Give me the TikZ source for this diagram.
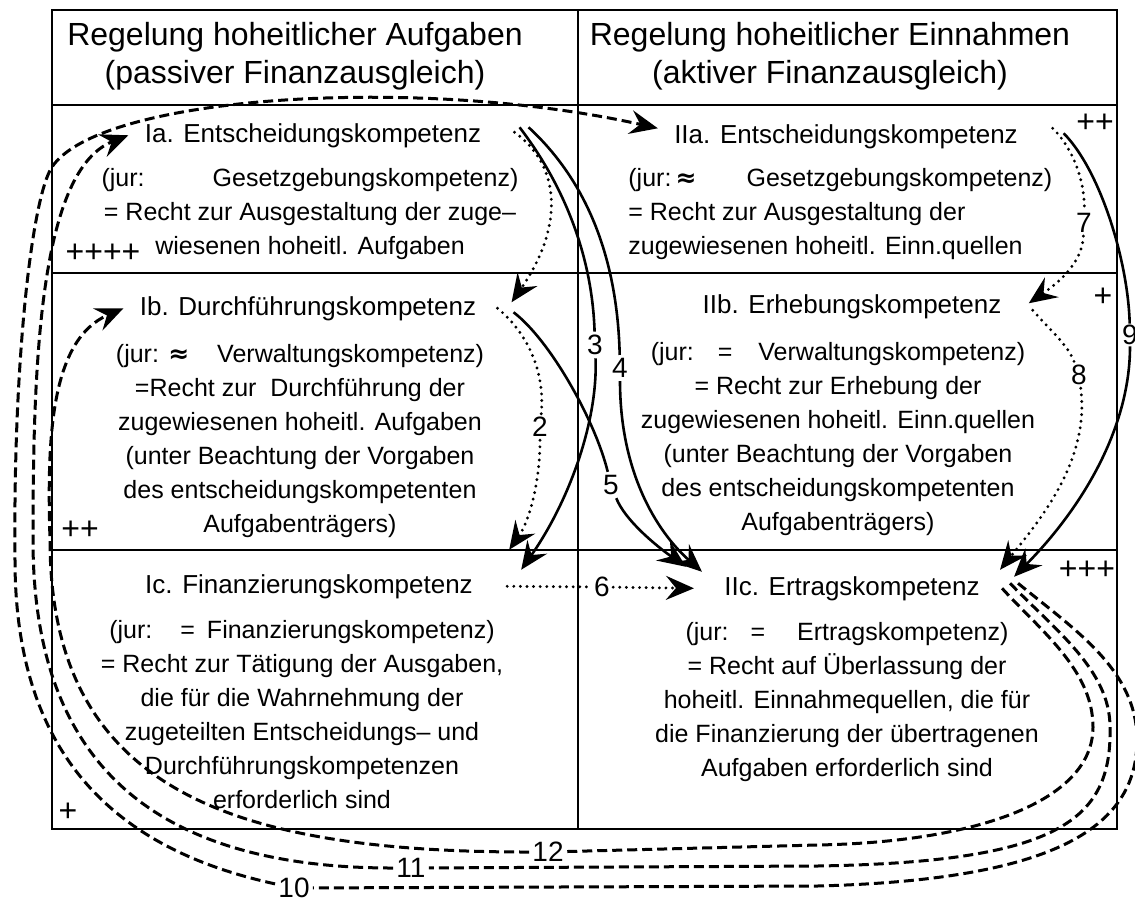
\documentclass[tikz,border=0pt]{standalone}
\usepackage{fontspec}
\setmainfont{Liberation Sans}
\newfontfamily\approxfont{DejaVu Sans}
\usepackage{tikz}
\usetikzlibrary{arrows.meta,positioning}
\newcommand{\apx}{{\approxfont\bfseries ≈}}
\tikzset{
  gridline/.style={line width=1.4pt, line cap=rect},
  header/.style={font=\fontsize{16}{19}\selectfont, align=center, anchor=north, inner sep=0pt},
  comptitle/.style={font=\fontsize{13}{16}\selectfont, anchor=base, inner xsep=8pt, inner ysep=2pt},
  bodytext/.style={font=\fontsize{12.5}{17}\selectfont, align=center, inner sep=0pt},
  signs/.style={font=\fontsize{16}{16}\selectfont, inner sep=0pt},
  numlabel/.style={font=\fontsize{14}{14}\selectfont, fill=white, inner sep=1.5pt},
  line/.style={-{Stealth[length=14pt,width=12pt,inset=5pt]}, line width=1.3pt},
  dashedline/.style={line, line width=1.5pt, dash pattern=on 5pt off 2.5pt},
  dottedline/.style={line, line width=1.6pt, line cap=round, dash pattern=on 0pt off 3.3pt}
}

\begin{document}
\begin{tikzpicture}[x=0.5pt, y=-0.5pt]
\useasboundingbox (0,0) rectangle (1135,902);

\draw[gridline] (52,10) rectangle (1117,829);
\draw[gridline] (578,10) -- (578,829);
\draw[gridline] (52,105) -- (1117,105);
\draw[gridline] (52,273) -- (1117,273);
\draw[gridline] (52,550) -- (1117,550);

\node[header] (hleft) at (295,22) {Regelung hoheitlicher Aufgaben\\(passiver Finanzausgleich)};
\node[header] (hright) at (830,22) {Regelung hoheitlicher Einnahmen\\(aktiver Finanzausgleich)};

\node[comptitle] (Ia) at (313,142) {Ia. Entscheidungskompetenz};
\node[comptitle] (Ib) at (308,315) {Ib. Durchführungskompetenz};
\node[comptitle] (Ic) at (309,593) {Ic. Finanzierungskompetenz};
\node[comptitle] (IIa) at (846,143) {IIa. Entscheidungskompetenz};
\node[comptitle] (IIb) at (852,313) {IIb. Erhebungskompetenz};
\node[comptitle] (IIc) at (852,595) {IIc. Ertragskompetenz};

\node[bodytext, below=13pt of Ia.base, xshift=-1.5pt] (Iatext)
  {(jur:\hspace{34pt}Gesetzgebungskompetenz)\\= Recht zur Ausgestaltung der zuge–\\wiesenen hoheitl. Aufgaben};
\node[bodytext, below=14.5pt of Ib.base, xshift=-4pt] (Ibtext)
  {(jur: \apx\hspace{14pt}Verwaltungskompetenz)\\=Recht zur\ \ Durchführung der\\zugewiesenen hoheitl. Aufgaben\\(unter Beachtung der Vorgaben\\des entscheidungskompetenten\\Aufgabenträgers)};
\node[bodytext, below=13.5pt of Ic.base, xshift=-3.5pt] (Ictext)
  {(jur:\hspace{14pt}=\hspace{6pt}Finanzierungskompetenz)\\= Recht zur Tätigung der Ausgaben,\\die für die Wahrnehmung der\\zugeteilten Entscheidungs– und\\Durchführungskompetenzen\\erforderlich sind};
\node[bodytext, align=left, below=12.5pt of IIa.base, anchor=north west, xshift=-109pt] (IIatext)
  {(jur:\,\apx\hspace{25pt}Gesetzgebungskompetenz)\\= Recht zur Ausgestaltung der\\zugewiesenen hoheitl. Einn.quellen};
\node[bodytext, below=14.5pt of IIb.base, xshift=-7pt] (IIbtext)
  {(jur:\hspace{12pt}=\hspace{13pt}Verwaltungskompetenz)\\= Recht zur Erhebung der\\zugewiesenen hoheitl. Einn.quellen\\(unter Beachtung der Vorgaben\\des entscheidungskompetenten\\Aufgabenträgers)};
\node[bodytext, below=13.5pt of IIc.base, xshift=-2.5pt] (IIctext)
  {(jur:\hspace{11pt}=\hspace{16pt}Ertragskompetenz)\\= Recht auf Überlassung der\\hoheitl. Einnahmequellen, die für\\die Finanzierung der übertragenen\\Aufgaben erforderlich sind};

\node[signs] (sIa) at (103,253) {++++};
\node[signs] (sIb) at (80,530) {++};
\node[signs] (sIc) at (68,812) {+};
\node[signs] (sIIa) at (1095,123) {++};
\node[signs] (sIIb) at (1103,297) {+};
\node[signs] (sIIc) at (1087,570) {+++};

\node[numlabel] (l2) at (540,427) {2};
\node[numlabel] (l3) at (595,345) {3};
\node[numlabel] (l4) at (620,368) {4};
\node[numlabel] (l5) at (611,485) {5};
\node[numlabel] (l6) at (602,587) {6};
\node[numlabel] (l7) at (1084,223) {7};
\node[numlabel] (l8) at (1079,375) {8};
\node[numlabel, inner sep=0.5pt] (l9) at (1130,335) {9};
\node[numlabel] (l10) at (294,888) {10};
\node[numlabel] (l11) at (411,868) {11};
\node[numlabel] (l12) at (548,852) {12};

\draw[dottedline] ([xshift=8.5pt,yshift=1.5pt]Ia.east) .. controls (560,165) and (565,225) .. ([xshift=9.5pt,yshift=3pt]Ib.east);
\draw[dottedline] ([xshift=2.5pt]Ib.east) .. controls (530,335) and (545,375) .. (l2)
  .. controls (540,480) and (530,520) .. ([xshift=10pt,yshift=10pt]Ic.north east);
\draw[line] ([xshift=11pt,yshift=4pt]Ia.east) .. controls (560,180) and (592,250) .. (l3)
  .. controls (598,420) and (570,500) .. ([xshift=16pt]Ic.north east);
\draw[line] ([xshift=15.5pt,yshift=4pt]Ia.east) .. controls (575,170) and (617,240) .. (l4)
  .. controls (620,470) and (655,530) .. ([xshift=-3pt]IIc.north west);
\draw[line] ([xshift=10.5pt,yshift=-2pt]Ib.east) .. controls (550,340) and (595,420) .. (l5)
  .. controls (625,520) and (655,545) .. ([xshift=-11pt,yshift=2.5pt]IIc.north west);
\draw[dottedline] ([xshift=9pt]Ic.east) -- (l6) -- ([xshift=-7pt]IIc.west);
\draw[dottedline] ([xshift=9.25pt,yshift=4pt]IIa.east) .. controls (1075,150) and (1085,185) .. (l7)
  .. controls (1082,265) and (1055,285) .. ([xshift=5.5pt,yshift=1.5pt]IIb.east);
\draw[dottedline] ([xshift=7.5pt,yshift=-2pt]IIb.east) .. controls (1050,330) and (1068,345) .. (l8)
  .. controls (1090,460) and (1040,520) .. ([xshift=2pt,yshift=1pt]IIc.north east);
\draw[line] ([xshift=14.75pt,yshift=1.5pt]IIa.east) .. controls (1100,170) and (1128,260) .. (l9)
  .. controls (1130,430) and (1080,510) .. ([xshift=9pt,yshift=-2.5pt]IIc.north east);

\draw[dashedline] ([xshift=11pt,yshift=2.5pt]IIc.east) .. controls (1075,630) and (1137,670) .. (1137,740)
  .. controls (1137,830) and (1050,880) .. (817,886) -- (l10)
  .. controls (120,850) and (15,760) .. (15,560)
  .. controls (13,360) and (32,197) .. (52,167)
  .. controls (100,95) and (420,75) .. ([yshift=4pt]IIa.west);
\draw[dashedline] ([xshift=7pt,yshift=2.5pt]IIc.east) .. controls (1055,630) and (1110,670) .. (1110,727)
  .. controls (1112,820) and (1060,862) .. (817,866) -- (l11)
  .. controls (150,868) and (33,760) .. (33,540)
  .. controls (33,360) and (40,170) .. (Ia.west);
\draw[dashedline] ([xshift=3pt]IIc.east) .. controls (1040,630) and (1093,670) .. (1093,727)
  .. controls (1093,800) and (980,842) .. (817,845) -- (l12)
  .. controls (232,852) and (50,790) .. (50,540)
  .. controls (47,440) and (50,340) .. (Ib.west);
\end{tikzpicture}
\end{document}
